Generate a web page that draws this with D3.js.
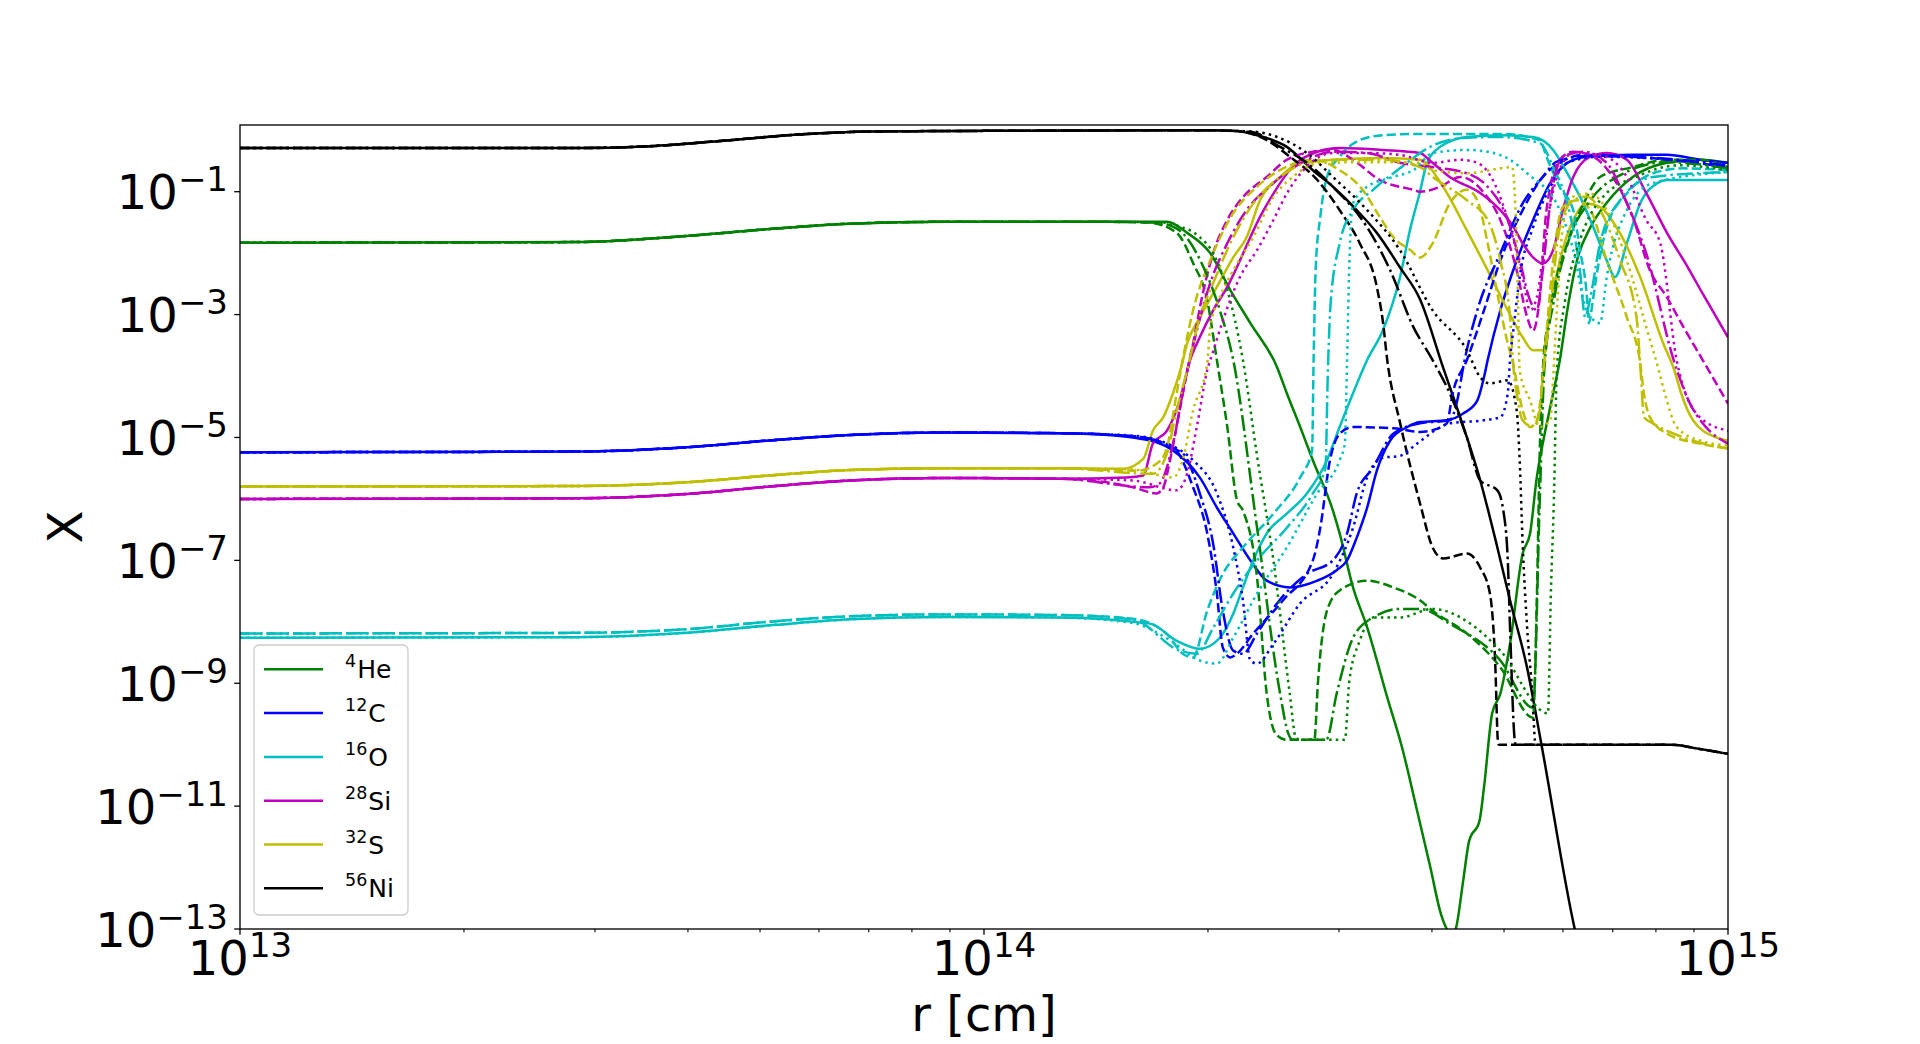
<!DOCTYPE html>
<html>
<head>
<meta charset="utf-8">
<script src="https://cdn.jsdelivr.net/npm/d3@7"></script>
<style>
  body { margin: 0; background: #fff; }
  text { font-family: "DejaVu Sans", sans-serif; fill: #000; }
</style>
</head>
<body>
<svg id="drawing_region"></svg>
<script>
// every point is [log10 r [cm], log10 X]
const species = ['He', 'C', 'O', 'Si', 'S', 'Ni'];
const massNumbers = ['4', '12', '16', '28', '32', '56'];
const speciesColors = ['#008000', '#0000ff', '#00bfbf', '#bf00bf', '#bfbf00', '#000000'];
const models = ['solid', 'dashed', 'dashdot', 'dotted'];
const xTicks = [1e13, 1e14, 1e15];
const yTickExponents = [-1, -3, -5, -7, -9, -11, -13];

// inner, flat part of the profiles (all models coincide there)
const heCore = [[13,-1.83],[13.45,-1.82],[13.6,-1.72],[13.72,-1.6],[13.82,-1.52],[13.95,-1.49],[14.15,-1.49]];
const cCore = [[13,-5.24],[13.45,-5.23],[13.6,-5.16],[13.72,-5.04],[13.82,-4.96],[13.95,-4.92],[14.1,-4.93]];
const oCoreA = [[13,-8.26],[13.45,-8.25],[13.6,-8.18],[13.72,-8.05],[13.82,-7.96],[13.95,-7.92],[14.1,-7.93]];
const oCoreB = [[13,-8.19],[13.45,-8.18],[13.6,-8.12],[13.72,-7.99],[13.82,-7.91],[13.95,-7.88],[14.1,-7.89]];
const siCore = [[13,-6.0],[13.45,-5.99],[13.6,-5.92],[13.72,-5.79],[13.82,-5.7],[13.95,-5.66],[14.1,-5.67]];
const sCore = [[13,-5.8],[13.45,-5.79],[13.6,-5.73],[13.72,-5.61],[13.82,-5.53],[13.95,-5.5],[14.1,-5.5]];
const niCore = [[13,-0.29],[13.45,-0.29],[13.55,-0.26],[13.65,-0.17],[13.75,-0.07],[13.85,-0.02],[14.0,-0.01],[14.3,0.0]];

const heSolid = heCore.concat([[14.246,-1.49],[14.273,-1.67],[14.304,-2.0],[14.331,-2.6],[14.358,-3.14],[14.394,-3.86],[14.407,-4.28],[14.425,-4.83],[14.442,-5.37],[14.469,-6.19],[14.478,-6.56],[14.496,-7.44],[14.515,-8.09],[14.542,-9.23],[14.562,-10.05],[14.583,-11.12],[14.6,-12.0],[14.614,-12.75],[14.622,-13.0],[14.628,-13.1],[14.634,-13.0],[14.644,-12.22],[14.652,-11.57],[14.666,-11.24],[14.672,-10.7],[14.683,-9.49],[14.694,-9.17],[14.707,-8.36],[14.724,-6.89],[14.734,-6.56],[14.743,-5.65],[14.751,-5.1],[14.765,-4.28],[14.774,-3.74],[14.784,-2.93],[14.797,-2.12],[14.815,-1.58],[14.837,-1.18],[14.872,-0.76],[14.918,-0.53],[14.962,-0.48],[15,-0.53]]);
const heDashed = heCore.concat([[14.22,-1.5],[14.259,-1.67],[14.281,-2.16],[14.3,-2.77],[14.313,-3.74],[14.327,-4.83],[14.34,-6.02],[14.348,-6.19],[14.367,-7.28],[14.38,-9.17],[14.392,-9.82],[14.406,-9.92],[14.444,-9.92],[14.449,-8.96],[14.461,-7.82],[14.478,-7.49],[14.515,-7.33],[14.55,-7.44],[14.586,-7.65],[14.603,-7.82],[14.649,-8.19],[14.694,-8.74],[14.738,-9.56],[14.743,-7.65],[14.747,-5.21],[14.751,-3.91],[14.761,-2.93],[14.784,-1.84],[14.806,-1.19],[14.828,-0.76],[14.872,-0.6],[14.918,-0.48],[14.962,-0.48],[15,-0.6]]);
const heDashdot = heCore.concat([[14.23,-1.5],[14.259,-1.6],[14.294,-2.2],[14.317,-2.93],[14.335,-3.74],[14.367,-6.47],[14.398,-9.17],[14.409,-9.82],[14.415,-9.92],[14.46,-9.92],[14.474,-9.17],[14.496,-8.26],[14.523,-7.93],[14.559,-7.79],[14.586,-7.79],[14.626,-8.03],[14.694,-8.63],[14.738,-9.4],[14.747,-6.02],[14.753,-3.91],[14.766,-2.77],[14.786,-1.79],[14.815,-1.14],[14.855,-0.73],[14.918,-0.52],[15,-0.62]]);
const heDotted = heCore.concat([[14.24,-1.5],[14.259,-1.55],[14.29,-1.74],[14.308,-2.0],[14.327,-2.6],[14.348,-3.74],[14.367,-5.3],[14.389,-7.0],[14.411,-9.17],[14.419,-9.88],[14.425,-9.92],[14.485,-9.92],[14.491,-8.96],[14.505,-8.31],[14.523,-7.93],[14.559,-7.93],[14.603,-7.79],[14.65,-8.0],[14.694,-8.47],[14.758,-9.49],[14.762,-7.5],[14.766,-6.0],[14.77,-3.91],[14.781,-2.77],[14.801,-1.79],[14.828,-1.14],[14.882,-0.73],[14.935,-0.57],[15,-0.65]]);

const cSolid = cCore.concat([[14.156,-4.95],[14.223,-5.05],[14.254,-5.21],[14.29,-5.65],[14.313,-6.14],[14.335,-6.56],[14.358,-7.0],[14.38,-7.33],[14.411,-7.44],[14.448,-7.33],[14.474,-7.16],[14.488,-7.0],[14.501,-6.63],[14.515,-6.14],[14.528,-5.54],[14.546,-5.05],[14.569,-4.83],[14.586,-4.75],[14.622,-4.72],[14.644,-4.61],[14.663,-4.4],[14.672,-4.02],[14.677,-3.74],[14.694,-2.93],[14.716,-2.12],[14.738,-1.46],[14.761,-0.86],[14.784,-0.53],[14.81,-0.43],[14.872,-0.4],[14.918,-0.4],[14.962,-0.48],[15,-0.53]]);
const cDashed = cCore.concat([[14.2,-4.98],[14.254,-5.16],[14.281,-5.81],[14.3,-6.56],[14.313,-7.54],[14.321,-8.42],[14.331,-8.58],[14.34,-8.52],[14.362,-8.19],[14.402,-7.65],[14.442,-7.0],[14.452,-6.47],[14.465,-5.37],[14.478,-4.94],[14.496,-4.83],[14.55,-4.85],[14.586,-4.91],[14.603,-4.88],[14.622,-4.77],[14.63,-4.28],[14.649,-3.74],[14.672,-2.93],[14.694,-2.12],[14.724,-1.3],[14.751,-0.76],[14.774,-0.53],[14.806,-0.4],[14.872,-0.43],[15,-0.6]]);
const cDashdot = cCore.concat([[14.2,-4.98],[14.267,-5.26],[14.29,-5.91],[14.308,-6.73],[14.321,-7.82],[14.335,-8.47],[14.348,-8.52],[14.367,-8.19],[14.394,-7.7],[14.434,-7.22],[14.469,-7.0],[14.488,-6.56],[14.501,-5.91],[14.523,-5.49],[14.55,-4.94],[14.586,-4.77],[14.626,-4.72],[14.636,-4.4],[14.645,-3.8],[14.663,-2.93],[14.694,-2.0],[14.724,-1.19],[14.751,-0.76],[14.77,-0.51],[14.81,-0.42],[14.9,-0.45],[15,-0.58]]);
const cDotted = cCore.concat([[14.2,-4.97],[14.246,-5.1],[14.281,-5.37],[14.313,-5.91],[14.335,-6.79],[14.348,-7.65],[14.358,-8.63],[14.367,-8.68],[14.389,-8.36],[14.425,-7.7],[14.469,-7.22],[14.496,-6.47],[14.515,-5.65],[14.536,-5.33],[14.559,-5.3],[14.582,-5.1],[14.626,-4.77],[14.672,-4.72],[14.694,-4.67],[14.704,-4.28],[14.707,-3.74],[14.712,-3.2],[14.72,-2.39],[14.738,-1.58],[14.761,-0.93],[14.784,-0.53],[14.828,-0.43],[15,-0.56]]);

const oSolid = oCoreA.concat([[14.223,-8.03],[14.259,-8.31],[14.29,-8.44],[14.317,-8.26],[14.335,-7.87],[14.348,-7.44],[14.362,-7.0],[14.38,-6.56],[14.407,-6.24],[14.434,-5.91],[14.461,-5.37],[14.478,-4.83],[14.496,-4.28],[14.515,-3.74],[14.536,-3.26],[14.559,-2.4],[14.573,-1.6],[14.586,-1.0],[14.595,-0.55],[14.613,-0.27],[14.649,-0.11],[14.694,-0.08],[14.738,-0.11],[14.765,-0.32],[14.784,-0.7],[14.801,-1.08],[14.819,-1.58],[14.837,-2.12],[14.848,-2.39],[14.864,-1.84],[14.882,-1.19],[14.905,-0.86],[14.918,-0.81],[15,-0.81]]);
const oDashed = oCoreB.concat([[14.2,-7.95],[14.246,-8.2],[14.267,-8.52],[14.281,-8.58],[14.3,-7.82],[14.321,-7.22],[14.348,-6.79],[14.389,-6.24],[14.425,-5.65],[14.441,-5.21],[14.443,-3.74],[14.446,-2.2],[14.452,-1.41],[14.461,-0.76],[14.478,-0.43],[14.505,-0.16],[14.536,-0.08],[14.586,-0.06],[14.694,-0.06],[14.747,-0.16],[14.756,-0.43],[14.774,-0.93],[14.792,-1.3],[14.801,-1.95],[14.81,-2.66],[14.813,-3.14],[14.818,-2.8],[14.823,-2.39],[14.837,-1.58],[14.864,-1.03],[14.899,-0.7],[14.94,-0.62],[15,-0.65]]);
const oDashdot = oCoreB.concat([[14.2,-7.96],[14.263,-8.47],[14.286,-8.52],[14.308,-8.1],[14.335,-7.54],[14.367,-7.0],[14.407,-6.47],[14.442,-5.91],[14.459,-5.49],[14.462,-4.0],[14.466,-2.8],[14.478,-1.84],[14.496,-1.3],[14.523,-0.97],[14.559,-0.62],[14.603,-0.25],[14.65,-0.12],[14.694,-0.11],[14.747,-0.21],[14.765,-0.6],[14.784,-1.19],[14.801,-2.28],[14.808,-3.04],[14.815,-2.72],[14.828,-1.84],[14.855,-1.14],[14.899,-0.76],[15,-0.68]]);
const oDotted = oCoreA.concat([[14.2,-8.02],[14.25,-8.3],[14.29,-8.63],[14.313,-8.68],[14.335,-8.26],[14.367,-7.54],[14.407,-6.79],[14.448,-5.91],[14.478,-5.37],[14.485,-5.1],[14.488,-3.74],[14.491,-2.2],[14.496,-1.19],[14.515,-0.92],[14.55,-0.76],[14.577,-0.65],[14.603,-0.37],[14.649,-0.32],[14.677,-0.35],[14.707,-0.48],[14.73,-0.7],[14.774,-1.3],[14.792,-1.95],[14.81,-2.93],[14.828,-3.14],[14.837,-2.39],[14.864,-1.3],[14.899,-0.86],[15,-0.68]]);

const siSolid = siCore.concat([[14.192,-5.65],[14.214,-5.62],[14.227,-5.1],[14.246,-4.89],[14.263,-4.4],[14.277,-3.74],[14.29,-3.37],[14.308,-2.93],[14.327,-2.55],[14.344,-2.12],[14.358,-1.74],[14.371,-1.41],[14.389,-1.03],[14.415,-0.59],[14.448,-0.35],[14.478,-0.29],[14.536,-0.32],[14.586,-0.37],[14.6,-0.5],[14.626,-0.76],[14.667,-1.02],[14.694,-1.3],[14.712,-1.58],[14.724,-1.84],[14.738,-2.07],[14.751,-2.17],[14.765,-1.95],[14.778,-1.3],[14.792,-0.76],[14.815,-0.43],[14.837,-0.37],[14.864,-0.48],[14.89,-1.02],[14.918,-1.67],[14.946,-2.23],[14.966,-2.66],[15,-3.37]]);
const siDashed = siCore.concat([[14.2,-5.81],[14.232,-5.91],[14.241,-5.81],[14.25,-5.37],[14.263,-4.56],[14.274,-3.86],[14.281,-3.47],[14.294,-2.66],[14.308,-2.0],[14.327,-1.46],[14.348,-1.09],[14.38,-0.76],[14.407,-0.48],[14.442,-0.35],[14.469,-0.32],[14.496,-0.48],[14.532,-0.81],[14.577,-0.97],[14.586,-1.0],[14.613,-0.92],[14.64,-0.76],[14.672,-1.02],[14.694,-1.46],[14.716,-2.28],[14.73,-3.04],[14.738,-3.26],[14.747,-2.72],[14.756,-1.3],[14.774,-0.48],[14.792,-0.35],[14.819,-0.43],[14.845,-0.76],[14.872,-1.41],[14.895,-2.28],[14.918,-2.72],[14.94,-3.2],[14.966,-3.74],[15,-4.45]]);
const siDashdot = siCore.concat([[14.223,-5.81],[14.236,-5.75],[14.254,-5.1],[14.267,-4.28],[14.286,-3.26],[14.304,-2.49],[14.327,-1.84],[14.353,-1.3],[14.389,-0.86],[14.434,-0.48],[14.469,-0.35],[14.515,-0.37],[14.559,-0.53],[14.603,-0.6],[14.649,-0.7],[14.677,-0.92],[14.704,-1.46],[14.72,-2.12],[14.734,-2.77],[14.743,-2.93],[14.751,-2.28],[14.761,-1.19],[14.778,-0.43],[14.806,-0.35],[14.837,-0.53],[14.864,-1.19],[14.89,-2.0],[14.927,-3.74],[14.949,-4.45],[14.966,-4.77],[15,-5.1]]);
const siDotted = siCore.concat([[14.2,-5.7],[14.259,-5.86],[14.273,-5.59],[14.286,-4.83],[14.3,-3.91],[14.308,-3.6],[14.321,-3.1],[14.344,-2.39],[14.367,-1.95],[14.389,-1.46],[14.407,-1.03],[14.434,-0.59],[14.469,-0.37],[14.515,-0.37],[14.559,-0.4],[14.603,-0.53],[14.64,-0.48],[14.663,-0.53],[14.686,-0.86],[14.707,-1.58],[14.724,-2.39],[14.734,-2.93],[14.743,-2.72],[14.756,-1.58],[14.77,-0.76],[14.792,-0.37],[14.828,-0.4],[14.864,-0.76],[14.89,-1.46],[14.909,-1.84],[14.931,-3.74],[14.962,-4.67],[15,-4.89]]);

const sSolid = sCore.concat([[14.187,-5.51],[14.214,-5.35],[14.227,-4.89],[14.241,-4.67],[14.254,-4.28],[14.265,-3.86],[14.273,-3.47],[14.29,-3.05],[14.313,-2.55],[14.335,-2.07],[14.353,-1.74],[14.371,-1.14],[14.398,-0.76],[14.425,-0.53],[14.469,-0.48],[14.536,-0.45],[14.586,-0.48],[14.617,-0.92],[14.649,-1.63],[14.677,-2.28],[14.704,-2.93],[14.724,-3.37],[14.738,-3.58],[14.751,-3.58],[14.761,-2.93],[14.774,-2.12],[14.792,-1.46],[14.81,-1.19],[14.828,-1.25],[14.855,-1.68],[14.882,-2.39],[14.913,-3.47],[14.928,-3.91],[14.937,-4.28],[14.953,-4.72],[14.984,-5.0],[15,-5.05]]);
const sDashed = sCore.concat([[14.206,-5.54],[14.235,-5.4],[14.246,-5.16],[14.259,-4.28],[14.267,-3.74],[14.281,-2.93],[14.304,-2.12],[14.335,-1.35],[14.367,-0.92],[14.407,-0.59],[14.442,-0.48],[14.478,-0.65],[14.509,-0.97],[14.532,-1.41],[14.55,-1.74],[14.573,-1.95],[14.586,-2.07],[14.603,-1.84],[14.626,-1.19],[14.649,-0.97],[14.663,-1.14],[14.677,-1.84],[14.69,-2.66],[14.704,-3.47],[14.71,-3.74],[14.724,-4.56],[14.734,-4.83],[14.743,-4.72],[14.751,-4.02],[14.756,-3.3],[14.765,-2.12],[14.778,-1.25],[14.797,-1.14],[14.815,-1.3],[14.837,-2.12],[14.864,-3.04],[14.882,-3.79],[14.887,-4.28],[14.895,-4.67],[14.918,-4.94],[14.962,-5.1],[15,-5.18]]);
const sDashdot = sCore.concat([[14.227,-5.59],[14.246,-5.26],[14.259,-4.56],[14.273,-3.91],[14.29,-3.05],[14.308,-2.49],[14.335,-1.74],[14.362,-1.19],[14.398,-0.76],[14.434,-0.53],[14.478,-0.48],[14.536,-0.48],[14.586,-0.6],[14.603,-0.76],[14.649,-1.14],[14.677,-1.46],[14.694,-2.12],[14.707,-3.04],[14.712,-3.91],[14.716,-4.28],[14.724,-4.72],[14.738,-4.83],[14.747,-4.56],[14.751,-4.02],[14.761,-2.93],[14.774,-1.58],[14.792,-1.14],[14.81,-1.08],[14.828,-1.3],[14.855,-2.12],[14.877,-3.04],[14.883,-4.0],[14.887,-4.67],[14.899,-4.77],[14.94,-5.0],[15,-5.18]]);
const sDotted = sCore.concat([[14.2,-5.52],[14.254,-5.65],[14.267,-5.37],[14.281,-4.56],[14.3,-3.8],[14.304,-3.21],[14.317,-2.72],[14.335,-2.28],[14.362,-1.74],[14.389,-1.09],[14.415,-0.76],[14.452,-0.53],[14.515,-0.52],[14.586,-0.53],[14.603,-0.65],[14.649,-0.7],[14.694,-0.62],[14.71,-0.6],[14.714,-1.2],[14.716,-1.84],[14.718,-2.93],[14.72,-3.91],[14.734,-4.4],[14.747,-4.83],[14.761,-4.72],[14.765,-4.02],[14.77,-2.93],[14.778,-1.58],[14.792,-1.08],[14.815,-1.03],[14.837,-1.3],[14.864,-2.12],[14.89,-3.2],[14.907,-3.91],[14.915,-4.28],[14.931,-4.83],[14.962,-5.05],[15,-5.13]]);

const niSolid = niCore.concat([[14.335,-0.01],[14.367,-0.08],[14.407,-0.27],[14.442,-0.65],[14.469,-0.92],[14.501,-1.3],[14.528,-1.67],[14.559,-2.23],[14.586,-2.75],[14.617,-3.86],[14.64,-4.67],[14.667,-5.7],[14.69,-6.79],[14.707,-7.65],[14.73,-8.75],[14.749,-9.98],[14.794,-13.0],[14.81,-13.8]]);
const niDashed = niCore.concat([[14.335,-0.01],[14.38,-0.16],[14.411,-0.43],[14.448,-0.81],[14.478,-1.3],[14.505,-1.84],[14.528,-2.55],[14.536,-3.1],[14.542,-3.74],[14.559,-4.75],[14.586,-6.07],[14.603,-6.79],[14.617,-6.97],[14.649,-6.89],[14.667,-7.12],[14.68,-7.54],[14.687,-8.63],[14.691,-9.98],[14.692,-10.0],[14.923,-10.0],[14.962,-10.07],[15,-10.15]]);
const niDashdot = niCore.concat([[14.36,-0.03],[14.398,-0.27],[14.434,-0.53],[14.469,-0.92],[14.515,-1.58],[14.546,-2.28],[14.577,-3.2],[14.603,-3.74],[14.626,-4.28],[14.649,-5.0],[14.667,-5.7],[14.69,-5.86],[14.698,-6.19],[14.704,-7.0],[14.707,-8.09],[14.714,-9.98],[14.715,-10.0],[14.923,-10.0],[14.962,-10.07],[15,-10.15]]);
const niDotted = niCore.concat([[14.36,-0.02],[14.394,-0.11],[14.434,-0.37],[14.469,-0.76],[14.515,-1.3],[14.559,-1.95],[14.603,-2.93],[14.649,-3.58],[14.667,-4.02],[14.68,-4.12],[14.704,-4.07],[14.716,-4.56],[14.72,-5.37],[14.724,-6.73],[14.73,-8.09],[14.737,-9.17],[14.741,-9.98],[14.742,-10.0],[14.923,-10.0],[14.962,-10.07],[15,-10.15]]);

const profiles = {
  He: [heSolid, heDashed, heDashdot, heDotted],
  C: [cSolid, cDashed, cDashdot, cDotted],
  O: [oSolid, oDashed, oDashdot, oDotted],
  Si: [siSolid, siDashed, siDashdot, siDotted],
  S: [sSolid, sDashed, sDashdot, sDotted],
  Ni: [niSolid, niDashed, niDashdot, niDotted]
};

const dashes = { solid: null, dashed: '9.25,4', dashdot: '16,4,2.5,4', dotted: '2.5,4.1' };

const width = 1920, height = 1044;
const margin = { top: 125, right: 192, bottom: 115, left: 240 };
const innerW = width - margin.left - margin.right;
const innerH = height - margin.top - margin.bottom;

const svg = d3.select('#drawing_region').attr('width', width).attr('height', height);
svg.append('rect').attr('width', width).attr('height', height).attr('fill', '#fff');

const x = d3.scaleLog().domain([1e13, 1e15]).range([0, innerW]);
const y = d3.scaleLog().domain([1e-13, Math.pow(10, 0.0856)]).range([innerH, 0]);

const g = svg.append('g').attr('transform', `translate(${margin.left},${margin.top})`);

g.append('clipPath').attr('id', 'plotclip')
  .append('rect').attr('width', innerW).attr('height', innerH);

const line = d3.line()
  .x(d => x(Math.pow(10, d[0])))
  .y(d => y(Math.pow(10, d[1])))
  .curve(d3.curveMonotoneX);

const lines = g.append('g').attr('clip-path', 'url(#plotclip)');
models.forEach((m, mi) => {
  species.forEach((s, si) => {
    lines.append('path')
      .attr('d', line(profiles[s][mi]))
      .attr('fill', 'none')
      .attr('stroke', speciesColors[si])
      .attr('stroke-width', 2.5)
      .attr('stroke-dasharray', dashes[m]);
  });
});

// x axis ticks
const minorX = [];
[1e13, 1e14].forEach(b => { for (let k = 2; k <= 9; k++) minorX.push(b * k); });
const xAxis = g.append('g').attr('transform', `translate(0,${innerH})`);
xAxis.selectAll('.minor').data(minorX).enter().append('line')
  .attr('x1', d => x(d)).attr('x2', d => x(d))
  .attr('y1', 0).attr('y2', 3.3)
  .attr('stroke', '#000').attr('stroke-width', 1.1);
xAxis.selectAll('.major').data(xTicks).enter().append('line')
  .attr('x1', d => x(d)).attr('x2', d => x(d))
  .attr('y1', 0).attr('y2', 5.8)
  .attr('stroke', '#000').attr('stroke-width', 1.3);
const xLabels = xAxis.selectAll('.xl').data(xTicks).enter().append('text')
  .attr('x', d => x(d)).attr('y', 46)
  .attr('text-anchor', 'middle').attr('font-size', '48px');
xLabels.append('tspan').text('10');
xLabels.append('tspan').attr('font-size', '34px').attr('dy', -18)
  .text(d => Math.round(Math.log10(d)));

// y axis ticks
const yAxis = g.append('g');
yAxis.selectAll('.major').data(yTickExponents).enter().append('line')
  .attr('x1', -5.8).attr('x2', 0)
  .attr('y1', d => y(Math.pow(10, d))).attr('y2', d => y(Math.pow(10, d)))
  .attr('stroke', '#000').attr('stroke-width', 1.3);
const yLabels = yAxis.selectAll('.yl').data(yTickExponents).enter().append('text')
  .attr('x', -12).attr('y', d => y(Math.pow(10, d)) + 17.5)
  .attr('text-anchor', 'end').attr('font-size', '48px');
yLabels.append('tspan').text('10');
yLabels.append('tspan').attr('font-size', '34px').attr('dy', -18)
  .text(d => '\u2212' + Math.abs(d));

// frame
g.append('rect').attr('width', innerW).attr('height', innerH)
  .attr('fill', 'none').attr('stroke', '#000').attr('stroke-width', 1.33);

// axis labels
svg.append('text').attr('x', margin.left + innerW / 2).attr('y', 1031)
  .attr('text-anchor', 'middle').attr('font-size', '48px').text('r [cm]');
svg.append('text').attr('transform', `translate(82,${margin.top + innerH / 2}) rotate(-90)`)
  .attr('text-anchor', 'middle').attr('font-size', '48px').text('X');

// legend
const legend = svg.append('g').attr('transform', 'translate(254,645)');
legend.append('rect').attr('width', 154).attr('height', 270).attr('rx', 5)
  .attr('fill', '#fff').attr('fill-opacity', 0.8)
  .attr('stroke', '#cccccc').attr('stroke-width', 1.3);
species.forEach((s, i) => {
  const ry = 24.3 + i * 43.8;
  legend.append('line').attr('x1', 10).attr('x2', 69).attr('y1', ry).attr('y2', ry)
    .attr('stroke', speciesColors[i]).attr('stroke-width', 2.5);
  const t = legend.append('text').attr('x', 91).attr('y', ry + 9).attr('font-size', '25px');
  t.append('tspan').attr('font-size', '17.5px').attr('dy', -11).text(massNumbers[i]);
  t.append('tspan').attr('dy', 11).attr('dx', 1).text(s);
});
</script>
</body>
</html>
